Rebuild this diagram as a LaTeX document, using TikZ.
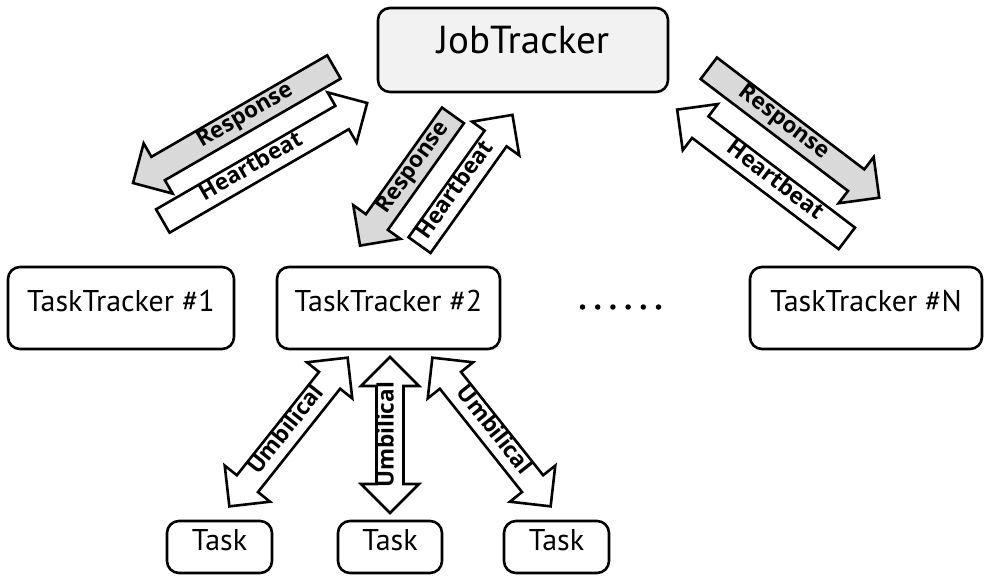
\documentclass[tikz,border=0pt]{standalone}
\usepackage{fontspec}
\setmainfont{PT Sans}
\newfontfamily\labelfont{Open Sans}
\definecolor{respfill}{HTML}{D9D9D9}
\definecolor{jobfill}{HTML}{F2F2F2}

% geometry of the block arrows (pt)
\def\shaftw{13.5}
\def\headw{29}
\def\headlen{29}

\tikzset{
  box/.style={draw, line width=2.6pt, rounded corners=12pt, inner sep=0pt,
              text height=0.72em, text depth=0pt,
              font=\fontsize{30}{30}\selectfont},
  blockarrow/.style={draw, line width=2.6pt, line join=miter},
  arrowlabel/.style={inner sep=0pt, text height=0.72em, text depth=0pt,
                     font=\labelfont\bfseries\fontsize{22.5}{22.5}\selectfont},
  dotmark/.style={fill, circle, inner sep=0pt, minimum size=5.5pt},
}

% #1 label name, #2 centre, #3 angle, #4 length, #5 head side (1 or -1),
% #6 fill colour, #7 label
\newcommand\singlearrow[7]{%
  \begin{scope}[shift={#2}, rotate=#3]
    \pgfmathsetmacro\hl{#4/2}
    \pgfmathsetmacro\hb{#4/2-\headlen}
    \pgfmathsetmacro\toff{-#5*\headlen/2}
    \draw[blockarrow, fill=#6, xscale=#5]
      (-\hl,\shaftw) -- (\hb,\shaftw) -- (\hb,\headw) -- (\hl,0)
      -- (\hb,-\headw) -- (\hb,-\shaftw) -- (-\hl,-\shaftw) -- cycle;
    \node[arrowlabel, rotate=#3] (#1) at (\toff,0) {#7};
  \end{scope}}

% #1 label name, #2 centre, #3 angle, #4 length, #5 label
\newcommand\doublearrow[5]{%
  \begin{scope}[shift={#2}, rotate=#3]
    \pgfmathsetmacro\hl{#4/2}
    \pgfmathsetmacro\hb{#4/2-\headlen}
    \draw[blockarrow, fill=white]
      (-\hl,0) -- (-\hb,\headw) -- (-\hb,\shaftw) -- (\hb,\shaftw)
      -- (\hb,\headw) -- (\hl,0) -- (\hb,-\headw) -- (\hb,-\shaftw)
      -- (-\hb,-\shaftw) -- (-\hb,-\headw) -- cycle;
    \node[arrowlabel, rotate=#3] (#1) at (0,0) {#5};
  \end{scope}}

\begin{document}
\begin{tikzpicture}[x=1pt, y=1pt]
  \useasboundingbox (0,0) rectangle (986,-576);

  % trackers
  \node[box, fill=jobfill, minimum width=290pt, minimum height=84pt,
        font=\fontsize{39}{39}\selectfont] (jt) at (523,-50) {JobTracker};
  \node[box, minimum width=226pt, minimum height=82pt] (tt1) at (121,-308) {TaskTracker \#1};
  \node[box, minimum width=223pt, minimum height=82pt] (tt2) at (388.5,-308) {TaskTracker \#2};
  \node[box, minimum width=232pt, minimum height=82pt] (ttn) at (866,-308) {TaskTracker \#N};

  % tasks
  \node[box, minimum width=105pt, minimum height=52pt] (task1) at (219.5,-547) {Task};
  \node[box, minimum width=104pt, minimum height=52pt] (task2) at (390,-547) {Task};
  \node[box, minimum width=105pt, minimum height=52pt] (task3) at (556.5,-547) {Task};

  % ellipsis between the trackers
  \foreach \i in {0,...,5}
    \node[dotmark] at (582.5+15.2*\i,-307) {};

  % JobTracker <-> TaskTracker #1
  \singlearrow{resp1}{(233.5,-125)}{30}{232}{-1}{respfill}{Response}
  \singlearrow{hb1}{(265,-162)}{30}{236}{1}{white}{Heartbeat}

  % JobTracker <-> TaskTracker #2
  \singlearrow{resp2}{(406.5,-180.5)}{54.5}{160}{-1}{respfill}{Response}
  \singlearrow{hb2}{(466,-180)}{54.5}{160}{1}{white}{Heartbeat}

  % JobTracker <-> TaskTracker #N
  \singlearrow{respn}{(794,-133)}{-37.2}{214}{1}{respfill}{Response}
  \singlearrow{hbn}{(762,-174)}{-37.2}{213}{-1}{white}{Heartbeat}

  % TaskTracker #2 <-> tasks
  \doublearrow{umb1}{(288.5,-432)}{51.5}{190}{Umbilical}
  \doublearrow{umb2}{(390,-435)}{90}{156}{Umbilical}
  \doublearrow{umb3}{(491.5,-432)}{-51.5}{190}{Umbilical}
\end{tikzpicture}
\end{document}
